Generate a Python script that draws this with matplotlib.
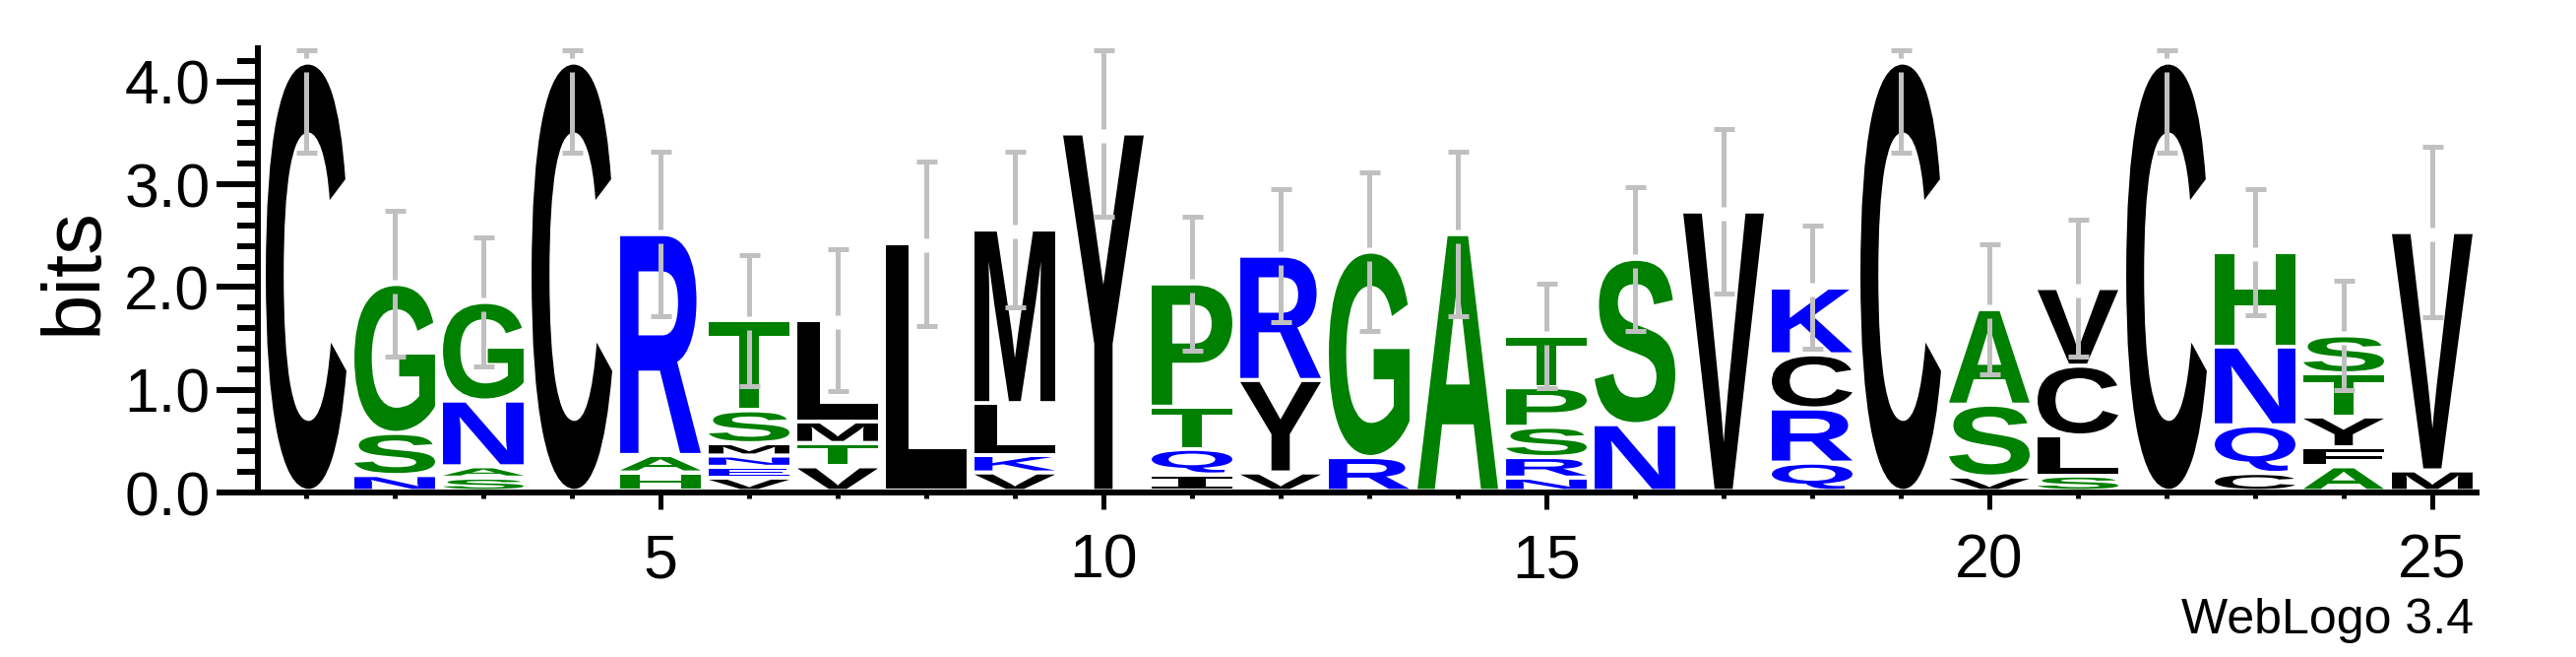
import matplotlib
matplotlib.use('Agg')
import matplotlib.pyplot as plt
from matplotlib.textpath import TextPath
from matplotlib.patches import PathPatch
from matplotlib.font_manager import FontProperties
from matplotlib.transforms import Affine2D

# ---------------- data ----------------
positions = list(range(1, 26))

# letters of each stack, bottom -> top
col_letters = [
    ['C'],
    ['N', 'S', 'G'],
    ['S', 'A', 'N', 'G'],
    ['C'],
    ['H', 'A', 'R'],
    ['V', 'E', 'N', 'M', 'S', 'T'],
    ['V', 'T', 'M', 'L'],
    ['L'],
    ['V', 'K', 'L', 'M'],
    ['Y'],
    ['I', 'Q', 'T', 'P'],
    ['V', 'Y', 'R'],
    ['R', 'G'],
    ['A'],
    ['N', 'R', 'S', 'P', 'T'],
    ['N', 'S'],
    ['V'],
    ['Q', 'R', 'C', 'K'],
    ['C'],
    ['V', 'S', 'A'],
    ['S', 'L', 'C', 'V'],
    ['C'],
    ['C', 'Q', 'N', 'H'],
    ['A', 'F', 'Y', 'T', 'S'],
    ['M', 'V'],
]

# heights (bits) of each letter, bottom -> top
col_heights = [
    [4.17],
    [0.155, 0.41, 1.45],
    [0.13, 0.11, 0.64, 0.96],
    [4.17],
    [0.18, 0.17, 2.15],
    [0.13, 0.105, 0.11, 0.12, 0.32, 0.875],
    [0.24, 0.227, 0.21, 0.99],
    [2.41],
    [0.18, 0.17, 0.505, 1.69],
    [3.48],
    [0.16, 0.25, 0.41, 1.20],
    [0.18, 0.90, 1.21],
    [0.33, 2.00],
    [2.50],
    [0.13, 0.20, 0.295, 0.385, 0.50],
    [0.65, 1.61],
    [2.72],
    [0.276, 0.527, 0.527, 0.65],
    [4.17],
    [0.14, 0.70, 0.93],
    [0.15, 0.39, 0.68, 0.755],
    [4.17],
    [0.175, 0.464, 0.767, 0.92],
    [0.24, 0.185, 0.30, 0.42, 0.37],
    [0.20, 2.32],
]

# half-length of error bars (bits)
col_errors = [0.88, 0.71, 0.63, 0.88, 0.80, 0.64, 0.69, 0.80, 0.755, 0.81,
              0.65, 0.65, 0.77, 0.80, 0.51, 0.70, 0.80, 0.60, 0.88, 0.63,
              0.67, 0.88, 0.615, 0.53, 0.83]

# hydrophobicity colour scheme
letter_colors = {}
for c in 'RKDENQ':
    letter_colors[c] = '#0000ff'
for c in 'SGHTAP':
    letter_colors[c] = '#008000'
for c in 'YVMCLFIW':
    letter_colors[c] = '#000000'

y_ticks = [0, 1, 2, 3, 4]
y_ticklabels = ['0.0', '1.0', '2.0', '3.0', '4.0']
x_major = [5, 10, 15, 20, 25]
ymax = 4.32

# ---------------- figure ----------------
W, H = 2617, 667
fig = plt.figure(figsize=(W / 100, H / 100), dpi=100)
ax_left, ax_right, ax_bottom, ax_top = 262, 2516, 500, 49.4
ax = fig.add_axes([ax_left / W, 1 - ax_bottom / H,
                   (ax_right - ax_left) / W, (ax_bottom - ax_top) / H])
ax.set_xlim(0.5 - 4 / 90, 25.5)
ax.set_ylim(0, ymax)

glyph_font = FontProperties(family='Liberation Sans', weight='bold')
glyph_font_i = FontProperties(family='DejaVu Sans Mono', weight='bold')
LETTER_W = 0.91
PAD = 0.02
BASE = 0.015


def draw_letter(ch, x, y0, h):
    hh = h - 2 * PAD
    if hh <= 0:
        return
    prop = glyph_font_i if ch == 'I' else glyph_font
    tp = TextPath((0, 0), ch, size=1, prop=prop)
    ext = tp.get_extents()
    tr = (Affine2D().translate(-ext.x0, -ext.y0)
          .scale(LETTER_W / ext.width, hh / ext.height)
          .translate(x - LETTER_W / 2, y0 + PAD))
    ax.add_patch(PathPatch(tr.transform_path(tp), facecolor=letter_colors[ch],
                           edgecolor='none', lw=0, zorder=2))


tops = []
for pos, letters, heights in zip(positions, col_letters, col_heights):
    y = BASE
    for ch, h in zip(letters, heights):
        draw_letter(ch, pos, y, h)
        y += h
    tops.append(y)

# error bars
eb_color = '#c0c0c0'
cap_w = 21 / 90 / 2
for pos, top, e in zip(positions, tops, col_errors):
    hi = min(top + e, ymax - 0.02)
    lo = top - e
    ax.plot([pos, pos], [hi, top + 0.045], color=eb_color, lw=3.6,
            solid_capstyle='butt', zorder=3)
    ax.plot([pos, pos], [top - 0.09, lo], color=eb_color, lw=3.6,
            solid_capstyle='butt', zorder=3)
    for yy in (hi, lo):
        ax.plot([pos - cap_w, pos + cap_w], [yy, yy], color=eb_color, lw=3.6,
                solid_capstyle='butt', zorder=3)

# axes styling
for s in ('top', 'right'):
    ax.spines[s].set_visible(False)
ax.spines['left'].set_linewidth(4.3)
ax.spines['bottom'].set_linewidth(4.3)
ax.spines['bottom'].set_bounds(0.5, 25.5)

ax.set_yticks(y_ticks)
ax.set_yticklabels(y_ticklabels)
ax.set_yticks([i * 0.2 for i in range(22) if i % 5 != 0], minor=True)
ax.set_xticks(x_major)
ax.set_xticklabels([str(v) for v in x_major])
ax.set_xticks([p for p in positions if p not in x_major], minor=True)

lab_font = 'Liberation Sans'
ax.tick_params(axis='y', which='major', direction='out', length=30, width=4.3,
               pad=5, labelsize=45)
ax.tick_params(axis='y', which='minor', direction='out', length=15, width=4.3)
ax.tick_params(axis='x', which='major', direction='out', length=12, width=3.6,
               pad=17, labelsize=45)
ax.tick_params(axis='x', which='minor', direction='out', length=4.5, width=3.6)
for lab in ax.get_xticklabels() + ax.get_yticklabels():
    lab.set_fontfamily(lab_font)

ax.set_ylabel('bits', fontsize=60, fontfamily=lab_font, labelpad=8)

fig.text(2513 / W, 1 - 643 / H, 'WebLogo 3.4', ha='right', va='baseline',
         fontsize=36, fontfamily=lab_font)

fig.savefig('out.png', dpi=100, facecolor='white')
